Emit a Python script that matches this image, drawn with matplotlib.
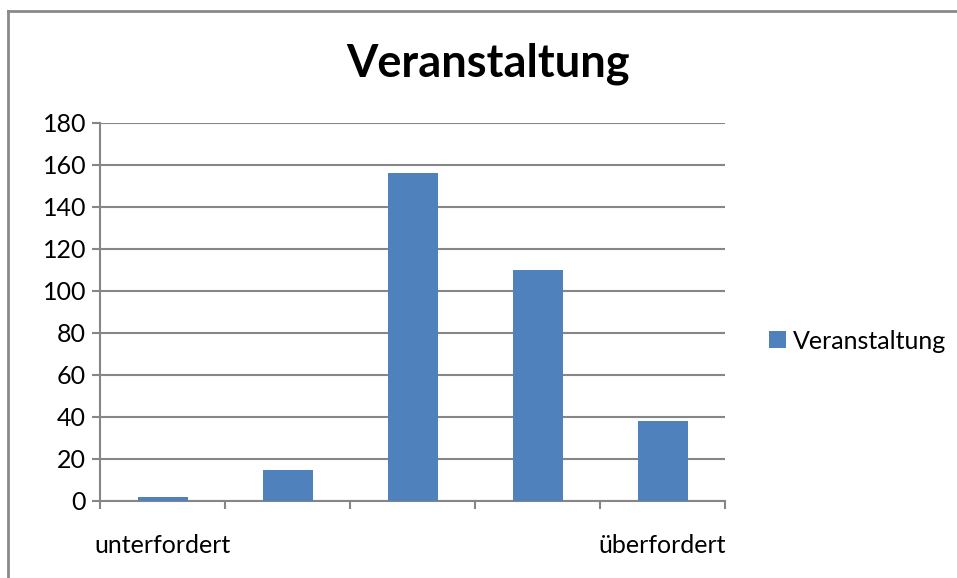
import matplotlib.pyplot as plt
from matplotlib.lines import Line2D

categories = ['unterfordert', '', '', '', 'überfordert']
values = [2, 15, 156, 110, 38]
series_name = 'Veranstaltung'

plt.rcParams['font.family'] = ['Lato', 'DejaVu Sans']

bar_color = '#4F81BD'
grid_color = '#868686'

fig = plt.figure(figsize=(9.57, 5.78), dpi=100)
ax = fig.add_axes([100 / 957, 77 / 578, 625 / 957, 378 / 578])

x = list(range(len(values)))
ax.bar(x, values, width=0.4, color=bar_color, label=series_name, zorder=3)

ax.set_xlim(-0.5, len(values) - 0.5)
ax.set_ylim(0, 180)
ax.set_yticks(range(0, 181, 20))
ax.yaxis.grid(True, color=grid_color, linewidth=1.5, zorder=0)

# category labels in the middle, tick marks at the boundaries
ax.set_xticks(x)
ax.set_xticklabels(categories)
ax.set_xticks([i - 0.5 for i in range(len(values) + 1)], minor=True)
ax.tick_params(axis='x', which='major', length=0, pad=24, labelsize=18)
ax.tick_params(axis='x', which='minor', length=6, width=1.5, color=grid_color)
ax.tick_params(axis='y', length=6, width=1.5, color=grid_color, pad=4, labelsize=18)

for side in ['top', 'right']:
    ax.spines[side].set_visible(False)
for side in ['left', 'bottom']:
    ax.spines[side].set_color(grid_color)
    ax.spines[side].set_linewidth(1.5)

fig.text(488 / 957, 1 - 64 / 578, 'Veranstaltung', ha='center', va='center',
         fontsize=32.5, fontweight='bold')

ax.legend(loc='center left', bbox_to_anchor=(1.035, 0.423), frameon=False,
          fontsize=18, handlelength=0.65, handleheight=0.65, handletextpad=0.3)

# chart frame, cut off at right and bottom
fig.add_artist(Line2D([8 / 957, 8 / 957], [1 - 11 / 578, 0], color='#8a8a8a', linewidth=2))
fig.add_artist(Line2D([8 / 957, 1], [1 - 11 / 578, 1 - 11 / 578], color='#8a8a8a', linewidth=2))

plt.savefig('out.png', dpi=100)
